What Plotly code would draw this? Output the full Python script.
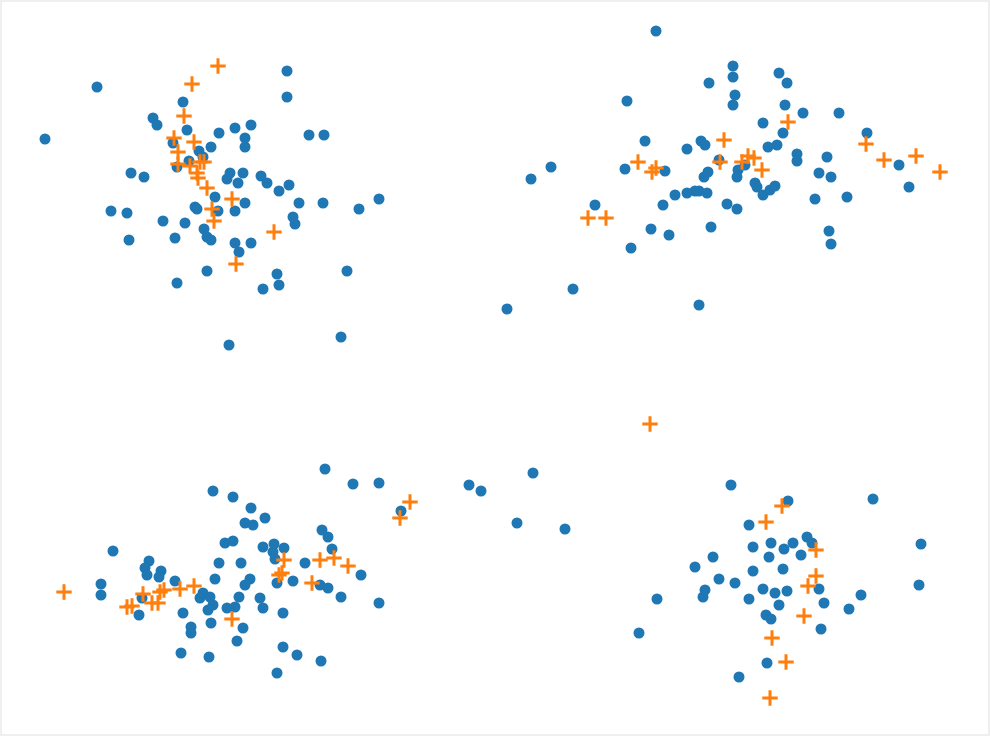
import plotly.graph_objects as go

# blue class (circles), positions
blue_x = [287, 97, 287, 183, 153, 157, 45, 187, 219, 235, 251, 245, 245, 309, 324, 173, 211, 199, 203, 189,
          177, 131, 144, 230, 243, 227, 238, 261, 267, 279, 289, 215, 245, 299, 323, 111, 127, 195, 197, 218,
          235, 293, 295, 163, 185, 204, 207, 211, 129, 175, 235, 251, 239, 207, 177, 277, 279, 263, 229, 359,
          379, 347, 341,
          656, 733, 733, 709, 779, 787, 735, 733, 785, 803, 839, 763, 783, 867, 627, 645, 701, 705, 687, 768,
          777, 797, 797, 827, 665, 625, 551, 531, 719, 745, 738, 737, 708, 704, 819, 831, 899, 909, 755, 757,
          763, 770, 775, 675, 687, 695, 699, 707, 663, 727, 737, 815, 847, 711, 669, 829, 831, 595, 651, 631,
          699, 573, 507,
          469, 481, 533, 517, 565,
          213, 233, 251, 265, 245, 253, 322, 328, 225, 233, 113, 263, 274, 284, 273, 275, 149, 145, 161, 147,
          159, 219, 241, 305, 332, 175, 215, 250, 245, 293, 277, 320, 328, 101, 101, 203, 210, 200, 213, 208,
          211, 239, 235, 227, 260, 263, 142, 139, 183, 191, 191, 243, 237, 283, 283, 297, 321, 277, 181, 209,
          325, 353, 379, 401, 361, 341, 379,
          731, 788, 873, 749, 807, 812, 753, 771, 793, 784, 801, 769, 713, 695, 753, 783, 921, 919, 719, 735,
          705, 703, 657, 763, 775, 787, 819, 749, 779, 824, 861, 849, 766, 771, 821, 767, 739, 639]
blue_y = [71, 87, 97, 102, 118, 125, 139, 130, 133, 128, 125, 138, 147, 135, 135, 143, 147, 151, 157, 161,
          167, 173, 177, 173, 173, 179, 183, 176, 183, 191, 185, 197, 203, 203, 203, 211, 213, 207, 209, 211,
          211, 217, 224, 221, 223, 229, 237, 240, 240, 238, 243, 243, 252, 271, 283, 274, 285, 289, 345, 209,
          199, 271, 337,
          31, 66, 77, 83, 73, 83, 95, 105, 105, 113, 113, 123, 133, 133, 101, 141, 141, 145, 149, 147,
          145, 154, 161, 157, 171, 169, 167, 179, 160, 165, 170, 177, 172, 177, 173, 177, 165, 187, 183, 187,
          195, 190, 186, 195, 193, 191, 191, 193, 205, 204, 209, 199, 197, 227, 235, 231, 244, 205, 229, 248,
          305, 289, 309,
          485, 491, 473, 523, 529,
          491, 497, 508, 518, 523, 525, 530, 537, 543, 541, 551, 547, 544, 548, 552, 559, 561, 568, 571, 575,
          577, 563, 563, 563, 549, 581, 579, 579, 585, 581, 583, 585, 588, 584, 595, 593, 597, 598, 605, 610,
          623, 597, 607, 608, 598, 608, 598, 615, 613, 627, 633, 628, 641, 613, 647, 655, 661, 673, 653, 657,
          469, 484, 483, 511, 575, 597, 603,
          485, 501, 499, 525, 537, 543, 547, 543, 543, 549, 555, 557, 557, 567, 571, 569, 544, 585, 579, 583,
          590, 597, 599, 589, 593, 591, 589, 599, 605, 603, 595, 609, 615, 619, 629, 663, 677, 633]

# orange class (plus markers)
orange_x = [218, 192, 184, 174, 194, 178, 178, 190, 197, 200, 204, 198, 207, 232, 212, 214, 274, 236,
            588, 606, 638, 652, 656, 788, 724, 720, 742, 748, 754, 762, 866, 884, 916, 940,
            650,
            64, 127, 132, 143, 160, 164, 152, 158, 180, 194, 232, 284, 279, 282, 320, 312, 334, 348, 410, 400,
            782, 766, 816, 816, 808, 804, 772, 786, 770]
orange_y = [66, 84, 116, 138, 142, 152, 164, 166, 173, 162, 162, 178, 188, 199, 209, 221, 232, 264,
            218, 218, 162, 172, 168, 122, 140, 162, 162, 156, 158, 170, 144, 160, 156, 172,
            424,
            592, 607, 606, 594, 592, 590, 603, 603, 589, 586, 619, 560, 575, 573, 560, 583, 558, 566, 502, 518,
            506, 522, 550, 576, 586, 616, 638, 662, 698]

fig = go.Figure()
fig.add_trace(go.Scatter(
    x=blue_x, y=blue_y, mode='markers',
    marker=dict(color='#1f77b4', size=11, line=dict(width=0)),
))
fig.add_trace(go.Scatter(
    x=orange_x, y=orange_y, mode='markers',
    marker=dict(symbol='cross-thin', size=11, line=dict(width=3, color='#ff7f0e')),
))

fig.update_layout(
    width=990,
    height=736,
    showlegend=False,
    paper_bgcolor='#efefef',
    plot_bgcolor='#ffffff',
    margin=dict(l=2, r=2, t=2, b=2),
    xaxis=dict(range=[2, 988], visible=False),
    yaxis=dict(range=[734, 2], visible=False),  # screen-style y, top to bottom
)

# drop the browser's default body margin so the figure sits at the page corner
fig.write_html("out.html", config={'displayModeBar': False},
               post_script="document.body.style.margin='0';")
